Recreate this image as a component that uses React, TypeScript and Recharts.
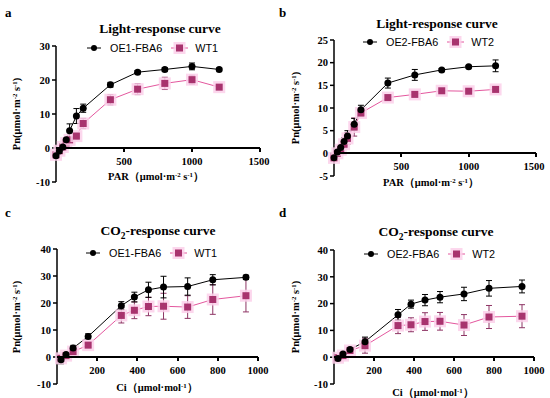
import React from 'react';
import { LineChart, Line, XAxis, YAxis, ErrorBar, Legend } from 'recharts';

// PAR steps (light-response) and Ci values (CO2-response)
const parSteps = [0, 25, 50, 75, 100, 150, 200, 400, 600, 800, 1000, 1200];
const ciSteps = [20, 45, 80, 155, 320, 385, 455, 530, 650, 775, 940];

// panel a
const oe1Light = [-2.3, -0.9, 0.3, 2.4, 5.1, 9.4, 11.7, 18.6, 22.3, 23.1, 24.0, 23.1];
const oe1LightErr = [0.5, 0.4, 0.5, 0.6, 2.0, 2.2, 1.2, 0.7, 0.5, 0.5, 1.0, 0.4];
const wt1Light = [-2.0, -0.8, 0.3, 1.5, 2.4, 3.5, 7.2, 14.2, 17.3, 19.0, 20.1, 17.9];
const wt1LightErr = [0.5, 0.4, 0.4, 0.6, 1.0, 1.0, 1.5, 1.5, 1.6, 1.8, 1.3, 0.5];

// panel b
const oe2Light = [-1.0, 0.3, 1.3, 2.6, 3.8, 6.4, 9.6, 15.5, 17.3, 18.4, 19.1, 19.3];
const oe2LightErr = [0.4, 0.4, 0.6, 0.8, 1.2, 1.3, 1.0, 1.1, 1.2, 0.3, 0.3, 1.3];
const wt2Light = [-1.0, 0.0, 0.8, 2.0, 3.3, 5.8, 8.9, 12.3, 13.0, 13.8, 13.7, 14.1];
const wt2LightErr = [0.3, 0.5, 1.0, 1.0, 1.3, 2.0, 0.8, 0.4, 0.4, 0.3, 0.3, 0.3];

// panel c
const oe1Co2 = [-1.0, 0.9, 3.3, 7.6, 19.0, 22.2, 24.9, 25.9, 26.1, 28.6, 29.5];
const oe1Co2Err = [1.5, 0.7, 1.0, 1.0, 1.5, 1.8, 2.8, 4.0, 3.2, 1.9, 0.8];
const wt1Co2 = [-0.5, 0.5, 2.0, 4.4, 15.4, 17.3, 18.7, 18.8, 18.5, 21.3, 22.7];
const wt1Co2Err = [1.2, 0.8, 1.0, 1.0, 2.8, 3.1, 3.4, 4.8, 4.2, 5.5, 6.0];

// panel d
const oe2Co2 = [-0.5, 1.2, 2.9, 5.8, 15.8, 19.8, 21.3, 22.4, 23.6, 25.7, 26.4];
const oe2Co2Err = [0.8, 0.8, 0.8, 1.7, 2.0, 1.5, 2.1, 2.1, 2.5, 2.9, 2.4];
const wt2Co2 = [-0.2, 0.6, 2.5, 4.3, 11.8, 12.1, 13.3, 13.4, 12.0, 15.0, 15.3];
const wt2Co2Err = [0.5, 0.6, 0.6, 2.8, 3.0, 2.6, 3.3, 3.3, 3.9, 4.3, 4.3];

const parTicks = [500, 1000, 1500];
const ciTicks = [200, 400, 600, 800, 1000];
const yTicks40 = [-10, 0, 10, 20, 30];
const yTicks25 = [-5, 0, 5, 10, 15, 20, 25];
const yTicksCo2 = [-10, 0, 10, 20, 30, 40];

const SERIF = '"Liberation Serif", "Times New Roman", serif';
const SANS = '"Liberation Sans", Arial, sans-serif';
const PINK = '#e4579e';
const PINK_DARK = '#a8336e';
const PINK_HALO = '#fbd0ea';

const makeRows = (xs: number[], oe: number[], oeErr: number[], wt: number[], wtErr: number[]) =>
  xs.map((x, i) => ({ x, oe: oe[i], oeErr: oeErr[i], wt: wt[i], wtErr: wtErr[i] }));

const Sup = ({ children }: { children: React.ReactNode }) => (
  <span style={{ fontSize: '0.65em', position: 'relative', top: '-0.45em' }}>{children}</span>
);

const PinkSquare = (props: any) => {
  const { cx, cy } = props;
  if (cx == null || cy == null) return <g />;
  return (
    <g>
      <rect x={cx - 6} y={cy - 6} width={12} height={12} fill={PINK_HALO} opacity={0.85} />
      <rect x={cx - 3.5} y={cy - 3.5} width={7} height={7} fill={PINK_DARK} />
    </g>
  );
};

// x tick labels sit under the y=0 line, not at the bottom of the plot
const ZeroTick = ({ x, value, zeroY }: { x: number; value: number; zeroY: number }) => (
  <text x={x} y={zeroY + 17} textAnchor="middle" fontFamily={SERIF} fontWeight="bold" fontSize={10.5} fill="#000">
    {value}
  </text>
);

const LegendRow = ({ oeName, wtName }: { oeName: string; wtName: string }) => (
  <div style={{ display: 'flex', alignItems: 'center', fontFamily: SANS, fontSize: 10.8, color: '#000', whiteSpace: 'nowrap' }}>
    <svg width={14} height={10}>
      <line x1={0} x2={14} y1={5} y2={5} stroke="#000" strokeWidth={1} />
      <circle cx={7} cy={5} r={3} fill="#000" />
    </svg>
    <span style={{ marginLeft: 9 }}>{oeName}</span>
    <svg width={17} height={14} style={{ marginLeft: 9 }}>
      <line x1={0} x2={17} y1={7} y2={7} stroke={PINK} strokeWidth={1} />
      <rect x={2.5} y={1} width={12} height={12} fill={PINK_HALO} opacity={0.85} />
      <rect x={5} y={3.5} width={7} height={7} fill={PINK_DARK} />
    </svg>
    <span style={{ marginLeft: 7 }}>{wtName}</span>
  </div>
);

interface PanelProps {
  left: number;
  top: number;
  letter: string;
  title: React.ReactNode;
  titleX: number;
  titleY: number;
  rows: any[];
  oeName: string;
  wtName: string;
  legendX: number;
  legendY: number;
  xDomain: number[];
  xTicks: number[];
  yDomain: number[];
  yTicks: number[];
  plot: { left: number; top: number; right: number; bottom: number };
  xLabel: React.ReactNode;
  xLabelX: number;
  xLabelY: number;
  yLabelX: number;
}

const Panel = (p: PanelProps) => {
  const W = 275;
  const H = 200;
  const plotW = p.plot.right - p.plot.left;
  const plotH = p.plot.bottom - p.plot.top;
  const zeroY = p.plot.top + (plotH * p.yDomain[1]) / (p.yDomain[1] - p.yDomain[0]);
  const tickLeft = (v: number) => p.plot.left + (plotW * (v - p.xDomain[0])) / (p.xDomain[1] - p.xDomain[0]);
  return (
    <div style={{ position: 'absolute', left: p.left, top: p.top, width: W, height: H }}>
      <div style={{ position: 'absolute', left: p.letter === 'a' || p.letter === 'c' ? 5 : 4, top: 5, fontFamily: SERIF, fontWeight: 'bold', fontSize: 13 }}>
        {p.letter}
      </div>
      <div style={{ position: 'absolute', left: p.titleX, top: p.titleY, transform: 'translate(-50%, -50%)', fontFamily: SERIF, fontWeight: 'bold', fontSize: 13.5, whiteSpace: 'nowrap' }}>
        {p.title}
      </div>
      <LineChart
        width={W}
        height={H}
        data={p.rows}
        margin={{ top: p.plot.top, right: W - p.plot.right, bottom: H - p.plot.bottom - 2, left: 0 }}
      >
        <XAxis
          type="number"
          dataKey="x"
          domain={p.xDomain}
          ticks={p.xTicks}
          height={2}
          axisLine={false}
          tickLine={false}
          tick={(t: any) => <ZeroTick x={t.x} value={t.payload.value} zeroY={zeroY} />}
        />
        <YAxis
          type="number"
          domain={p.yDomain}
          ticks={p.yTicks}
          width={p.plot.left}
          axisLine={{ stroke: '#000', strokeWidth: 1.5 }}
          tickLine={{ stroke: '#000', strokeWidth: 1.5 }}
          tickSize={4}
          tick={{ fill: '#000', fontFamily: SERIF, fontWeight: 'bold', fontSize: 10.5 }}
        />
        <Legend
          verticalAlign="middle"
          align="center"
          wrapperStyle={{ left: p.legendX, top: p.legendY, width: 'auto' }}
          content={() => <LegendRow oeName={p.oeName} wtName={p.wtName} />}
        />
        <Line
          dataKey="wt"
          name={p.wtName}
          stroke={PINK}
          strokeWidth={1}
          dot={<PinkSquare />}
          activeDot={false}
          isAnimationActive={false}
        >
          <ErrorBar dataKey="wtErr" width={3} stroke="#8e3565" strokeWidth={1} direction="y" />
        </Line>
        <Line
          dataKey="oe"
          name={p.oeName}
          stroke="#000"
          strokeWidth={1}
          dot={{ r: 3.5, fill: '#000', stroke: '#000', strokeWidth: 0 }}
          activeDot={false}
          isAnimationActive={false}
        >
          <ErrorBar dataKey="oeErr" width={3} stroke="#000" strokeWidth={1} direction="y" />
        </Line>
      </LineChart>
      {/* x axis line crossing at y = 0, with its tick marks */}
      <div
        style={{
          position: 'absolute',
          left: p.plot.left,
          top: Math.round(zeroY) - 1,
          width: plotW,
          height: 2,
          background: '#000',
          zIndex: 5,
          pointerEvents: 'none',
        }}
      />
      {p.xTicks.map((v) => (
        <div
          key={v}
          style={{ position: 'absolute', left: Math.round(tickLeft(v)) - 1, top: Math.round(zeroY), width: 2, height: 4, background: '#000', zIndex: 5 }}
        />
      ))}
      <div style={{ position: 'absolute', left: p.xLabelX, top: p.xLabelY, transform: 'translate(-50%, -50%)', fontFamily: SERIF, fontWeight: 'bold', fontSize: 10.5, whiteSpace: 'nowrap' }}>
        {p.xLabel}
      </div>
      <div
        style={{
          position: 'absolute',
          left: p.yLabelX,
          top: (p.plot.top + p.plot.bottom) / 2,
          transform: 'translate(-50%, -50%) rotate(-90deg)',
          fontFamily: SERIF,
          fontWeight: 'bold',
          fontSize: 10.5,
          whiteSpace: 'nowrap',
        }}
      >
        Pn(μmol·m<Sup>-2</Sup> s<Sup>-1</Sup>)
      </div>
    </div>
  );
};

const parLabel = (
  <span>
    PAR（μmol·m<Sup>-2</Sup> s<Sup>-1</Sup>）
  </span>
);
const ciLabel = (
  <span>
    Ci（μmol·mol<Sup>-1</Sup>）
  </span>
);
const co2Title = (
  <span>
    CO<sub style={{ fontSize: '0.7em' }}>2</sub>-response curve
  </span>
);

export default function App() {
  return (
    <div style={{ position: 'absolute', left: 0, top: 0, width: 550, height: 398, background: '#fff', overflow: 'hidden' }}>
      <Panel
        left={0}
        top={0}
        letter="a"
        title="Light-response curve"
        titleX={160}
        titleY={29}
        rows={makeRows(parSteps, oe1Light, oe1LightErr, wt1Light, wt1LightErr)}
        oeName="OE1-FBA6"
        wtName="WT1"
        legendX={87}
        legendY={41}
        xDomain={[0, 1500]}
        xTicks={parTicks}
        yDomain={[-10, 30]}
        yTicks={yTicks40}
        plot={{ left: 56, top: 46, right: 260, bottom: 182 }}
        xLabel={parLabel}
        xLabelX={156}
        xLabelY={177}
        yLabelX={16}
      />
      <Panel
        left={275}
        top={0}
        letter="b"
        title="Light-response curve"
        titleX={162}
        titleY={24}
        rows={makeRows(parSteps, oe2Light, oe2LightErr, wt2Light, wt2LightErr)}
        oeName="OE2-FBA6"
        wtName="WT2"
        legendX={88}
        legendY={35}
        xDomain={[0, 1500]}
        xTicks={parTicks}
        yDomain={[-5, 25]}
        yTicks={yTicks25}
        plot={{ left: 59, top: 40, right: 261, bottom: 176 }}
        xLabel={parLabel}
        xLabelX={156}
        xLabelY={183}
        yLabelX={20}
      />
      <Panel
        left={0}
        top={200}
        letter="c"
        title={co2Title}
        titleX={158}
        titleY={32}
        rows={makeRows(ciSteps, oe1Co2, oe1Co2Err, wt1Co2, wt1Co2Err)}
        oeName="OE1-FBA6"
        wtName="WT1"
        legendX={86}
        legendY={46}
        xDomain={[0, 1000]}
        xTicks={ciTicks}
        yDomain={[-10, 40]}
        yTicks={yTicksCo2}
        plot={{ left: 57, top: 49, right: 258, bottom: 184 }}
        xLabel={ciLabel}
        xLabelX={157}
        xLabelY={188}
        yLabelX={16}
      />
      <Panel
        left={275}
        top={200}
        letter="d"
        title={co2Title}
        titleX={161}
        titleY={33}
        rows={makeRows(ciSteps, oe2Co2, oe2Co2Err, wt2Co2, wt2Co2Err)}
        oeName="OE2-FBA6"
        wtName="WT2"
        legendX={89}
        legendY={47}
        xDomain={[0, 1000]}
        xTicks={ciTicks}
        yDomain={[-10, 40]}
        yTicks={yTicksCo2}
        plot={{ left: 59, top: 50, right: 259, bottom: 184 }}
        xLabel={ciLabel}
        xLabelX={158}
        xLabelY={193}
        yLabelX={20}
      />
    </div>
  );
}
